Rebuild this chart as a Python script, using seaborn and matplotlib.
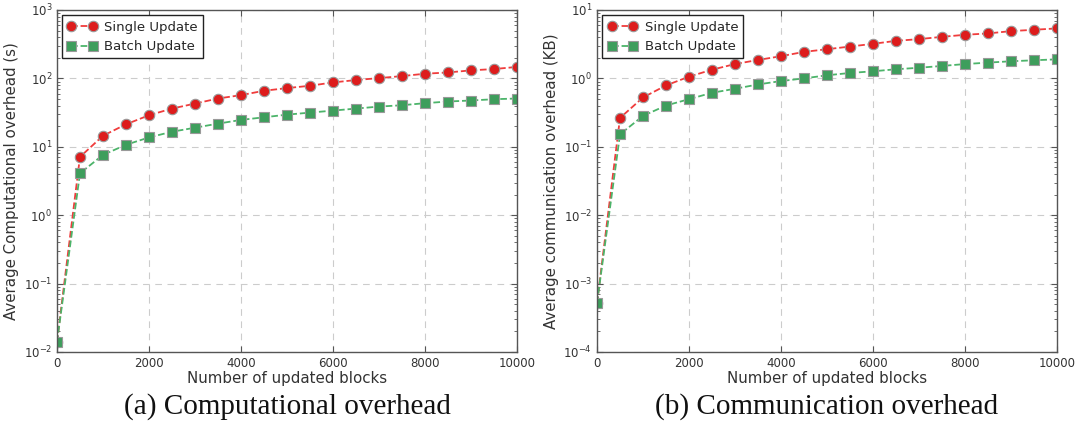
import numpy as np
import pandas as pd
import matplotlib
matplotlib.use("Agg")
import matplotlib.pyplot as plt
import seaborn as sns

# data
blocks = [0, 500, 1000, 1500, 2000, 2500, 3000, 3500, 4000, 4500, 5000,
          5500, 6000, 6500, 7000, 7500, 8000, 8500, 9000, 9500, 10000]

comp_single = [0.014, 7.1, 14.5, 21.3, 28.9, 36.2, 42.8, 50.8, 56.9, 65.9, 72.1,
               78.0, 87.3, 94.5, 101, 108, 117, 122, 131, 137, 147]
comp_batch = [0.014, 4.1, 7.6, 10.7, 13.7, 16.6, 19.0, 21.8, 24.7, 27.0, 29.5,
              31.6, 33.8, 36.2, 38.7, 40.5, 43.4, 45.9, 47.5, 49.6, 50.8]

comm_single = [0.00052, 0.264, 0.526, 0.789, 1.06, 1.34, 1.62, 1.86, 2.11, 2.44, 2.67,
               2.92, 3.2, 3.54, 3.75, 4.05, 4.34, 4.54, 4.91, 5.14, 5.38]
comm_batch = [0.00052, 0.152, 0.283, 0.401, 0.497, 0.616, 0.705, 0.816, 0.914, 1.0, 1.11,
              1.20, 1.27, 1.36, 1.43, 1.52, 1.62, 1.70, 1.78, 1.84, 1.90]

sns.set_style("white")
plt.rcParams['font.family'] = ['DejaVu Sans']

fig = plt.figure(figsize=(10.79, 4.25), dpi=100)
ax1 = fig.add_axes([0.0528, 0.1718, 0.4263, 0.8047])
ax2 = fig.add_axes([0.5533, 0.1718, 0.4263, 0.8047])

panels = [
    (ax1, comp_single, comp_batch, "Average Computational overhead (s)", (1e-2, 1e3),
     "(a) Computational overhead"),
    (ax2, comm_single, comm_batch, "Average communication overhead (KB)", (1e-4, 1e1),
     "(b) Communication overhead"),
]

for ax, single, batch, ylab, ylim, caption in panels:
    sns.lineplot(x=blocks, y=single, ax=ax, color='#f03c3c', linestyle='--', linewidth=1.3,
                 marker='o', markersize=7.5, markerfacecolor='#dd1c1c', markeredgecolor='#999999',
                 markeredgewidth=0.8, label='Single Update')
    sns.lineplot(x=blocks, y=batch, ax=ax, color='#4cb46a', linestyle='--', linewidth=1.3,
                 marker='s', markersize=7.5, markerfacecolor='#3e9e5c', markeredgecolor='#999999',
                 markeredgewidth=0.8, label='Batch Update')
    ax.set_yscale('log')
    ax.set_ylim(*ylim)
    ax.set_xlim(0, 10000)
    ax.set_xticks([0, 2000, 4000, 6000, 8000, 10000])
    ax.grid(True, which='major', linestyle=(0, (6, 5)), color='#cccccc', linewidth=0.8)
    ax.tick_params(which='both', direction='in', bottom=True, left=True, top=True, right=True,
                   colors='#555555', labelcolor='#333333', labelsize=8.5)
    ax.tick_params(which='major', length=4)
    ax.tick_params(which='minor', length=2)
    for sp in ax.spines.values():
        sp.set_color('#555555')
        sp.set_linewidth(1.0)
    ax.set_xlabel("Number of updated blocks", fontsize=10.8, color='#333333', labelpad=1)
    ax.set_ylabel(ylab, fontsize=10.8, color='#333333', labelpad=3)
    leg = ax.legend(loc='upper left', numpoints=2, fontsize=9.5, fancybox=False,
                    framealpha=1, edgecolor='#222222', handlelength=2.2,
                    borderaxespad=0.4, handletextpad=0.6)
    leg.get_frame().set_linewidth(1.0)
    ax.text(0.5, -0.12, caption, transform=ax.transAxes, ha='center', va='top',
            fontsize=21, family='Liberation Serif', color='#111111')

fig.savefig("out.png", dpi=100)
